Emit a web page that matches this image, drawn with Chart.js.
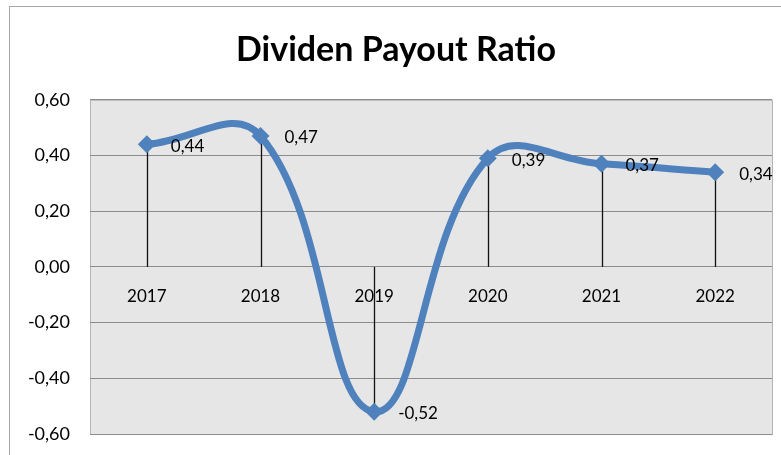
<!DOCTYPE html>
<html>
<head>
<meta charset="utf-8">
<script src="https://cdn.jsdelivr.net/npm/chart.js@4"></script>
<style>
  html, body { margin: 0; padding: 0; background: white; }
  #chart { display: block; }
</style>
</head>
<body>
<canvas id="chart" width="781" height="455"></canvas>
<script>
const years = ["2017", "2018", "2019", "2020", "2021", "2022"];
const payoutRatio = [0.44, 0.47, -0.52, 0.39, 0.37, 0.34];
const yTicks = [-0.6, -0.4, -0.2, 0, 0.2, 0.4, 0.6];

const fmt = (v) => v.toFixed(2).replace(".", ",");

// frame + gray plot area
const backdrop = {
  id: "backdrop",
  beforeDraw(chart) {
    const { ctx, chartArea: a } = chart;
    ctx.save();
    ctx.strokeStyle = "#a6a6a6";
    ctx.lineWidth = 1;
    ctx.strokeRect(9.5, 6.5, 900, 600);
    ctx.fillStyle = "#e6e6e6";
    ctx.fillRect(a.left, a.top, a.right - a.left, a.bottom - a.top);
    ctx.strokeStyle = "#b4b4b4";
    ctx.strokeRect(a.left + 0.5, a.top + 0.5, a.right - a.left, a.bottom - a.top);
    ctx.restore();
  }
};

// vertical drop lines from each point down/up to zero
const dropLines = {
  id: "dropLines",
  beforeDatasetsDraw(chart) {
    const { ctx } = chart;
    const y0 = chart.scales.y.getPixelForValue(0);
    ctx.save();
    ctx.strokeStyle = "#111";
    ctx.lineWidth = 1.3;
    chart.getDatasetMeta(0).data.forEach((pt) => {
      const x = Math.round(pt.x) + 0.5;
      ctx.beginPath();
      ctx.moveTo(x, pt.y);
      ctx.lineTo(x, y0);
      ctx.stroke();
    });
    ctx.restore();
  }
};

// value labels right of the markers
const valueLabels = {
  id: "valueLabels",
  afterDatasetsDraw(chart) {
    const { ctx } = chart;
    const ds = chart.data.datasets[0];
    ctx.save();
    ctx.font = "17px Lato";
    ctx.fillStyle = "#000";
    ctx.textAlign = "left";
    ctx.textBaseline = "middle";
    chart.getDatasetMeta(0).data.forEach((pt, i) => {
      ctx.fillText(fmt(ds.data[i]), pt.x + 24, pt.y + 2);
    });
    ctx.restore();
  }
};

new Chart(document.getElementById("chart"), {
  type: "line",
  data: {
    labels: years,
    datasets: [
      {
        label: "Dividen Payout Ratio",
        data: payoutRatio,
        borderColor: "#4f81bd",
        backgroundColor: "#4f81bd",
        borderWidth: 7,
        tension: 0.42,
        pointStyle: "rectRot",
        pointRadius: 9,
        pointHoverRadius: 9,
        pointBorderWidth: 0,
      },
    ],
  },
  options: {
    responsive: false,
    animation: false,
    events: [],
    layout: { padding: { left: 20, right: 9, top: 0, bottom: 21 } },
    elements: { line: { capBezierPoints: false } },
    plugins: {
      legend: { display: false },
      tooltip: { enabled: false },
      title: {
        display: true,
        text: "Dividen Payout Ratio",
        color: "#000",
        font: { family: "Lato", size: 34, weight: "bold" },
        padding: { top: 30, bottom: 29 },
      },
    },
    scales: {
      x: {
        position: { y: 0 },
        offset: true,
        grid: { display: false, drawTicks: false, offset: true },
        border: { display: false },
        ticks: { color: "#000", font: { family: "Lato", size: 17 }, padding: 19 },
      },
      y: {
        min: -0.6,
        max: 0.6,
        afterBuildTicks: (scale) => {
          scale.ticks = yTicks.map((v) => ({ value: v }));
        },
        afterFit: (scale) => { scale.width = 70; },
        grid: { color: "#8c8c8c", drawTicks: true, tickLength: 18, tickColor: "rgba(0,0,0,0)" },
        border: { display: false },
        ticks: {
          color: "#000",
          font: { family: "Lato", size: 18 },
          padding: 2,
          callback: (v) => fmt(v),
        },
      },
    },
  },
  plugins: [backdrop, dropLines, valueLabels],
});
</script>
</body>
</html>
